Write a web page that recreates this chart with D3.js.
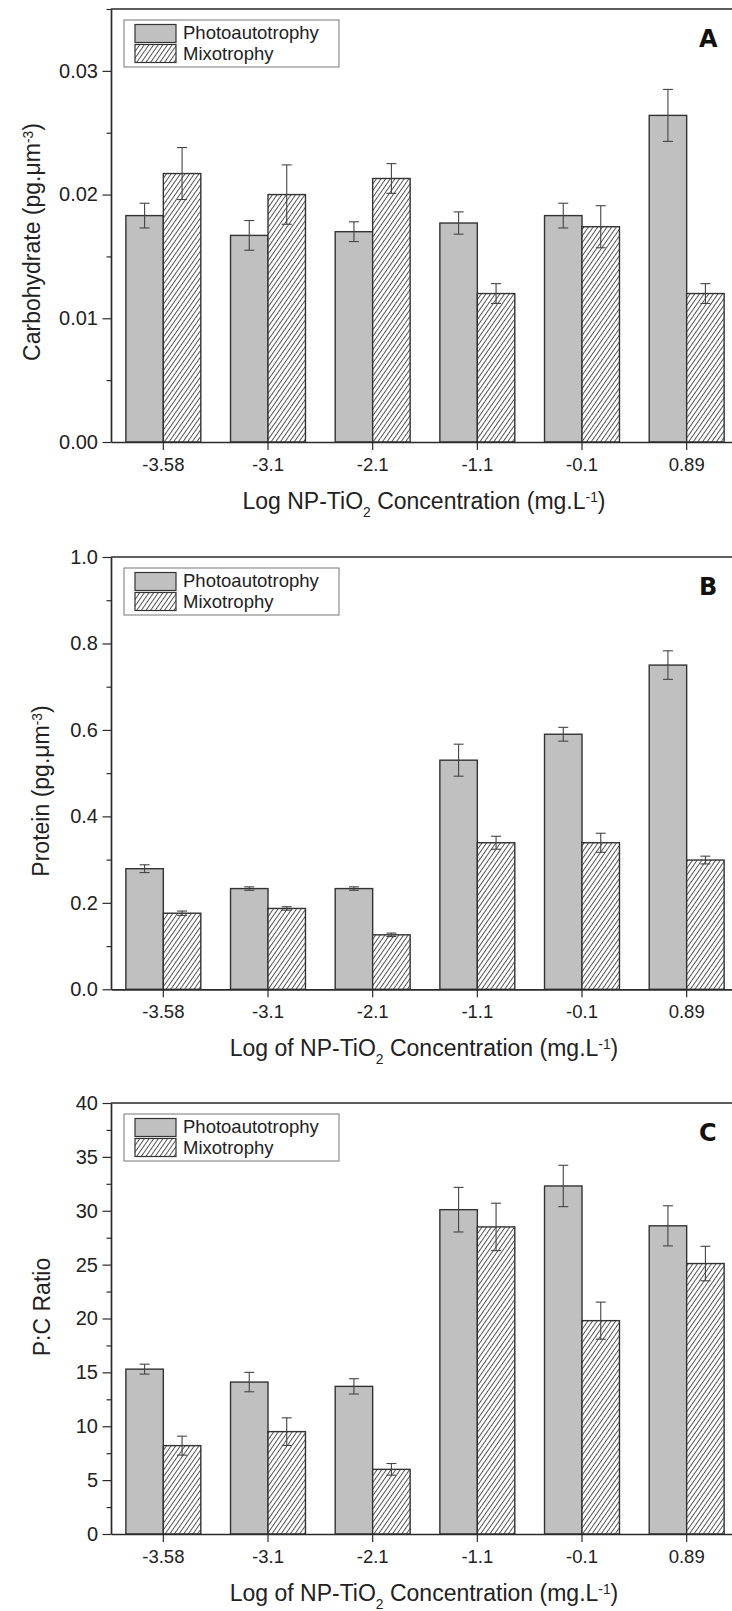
<!doctype html>
<html lang="en">
<head>
<meta charset="utf-8">
<title>NP-TiO2 bars</title>
<script src="https://d3js.org/d3.v7.min.js"></script>
<style>
  body { margin: 0; background: #fff; }
  svg { display: block; font-family: "Liberation Sans", Arial, sans-serif; }
</style>
</head>
<body>
<script>
    // categories and series
    var categories = ["-3.58", "-3.1", "-2.1", "-1.1", "-0.1", "0.89"];
    var series = ["Photoautotrophy", "Mixotrophy"];

    // A: carbohydrate (pg.um-3)
    var carbPhoto    = [0.0183, 0.0167, 0.0170, 0.0177, 0.0183, 0.0264];
    var carbPhotoErr = [0.0010, 0.0012, 0.0008, 0.0009, 0.0010, 0.0021];
    var carbMixo     = [0.0217, 0.0200, 0.0213, 0.0120, 0.0174, 0.0120];
    var carbMixoErr  = [0.0021, 0.0024, 0.0012, 0.0008, 0.0017, 0.0008];
    var carbTicks = [0, 0.01, 0.02, 0.03];
    var carbMinor = [0.005, 0.015, 0.025, 0.035];

    // B: protein (pg.um-3)
    var protPhoto    = [0.279, 0.233, 0.233, 0.530, 0.590, 0.750];
    var protPhotoErr = [0.009, 0.004, 0.004, 0.037, 0.016, 0.033];
    var protMixo     = [0.176, 0.187, 0.126, 0.339, 0.339, 0.299];
    var protMixoErr  = [0.005, 0.004, 0.004, 0.015, 0.022, 0.009];
    var protTicks = [0, 0.2, 0.4, 0.6, 0.8, 1.0];
    var protMinor = [0.1, 0.3, 0.5, 0.7, 0.9];

    // C: P:C ratio
    var pcPhoto    = [15.3, 14.1, 13.7, 30.1, 32.3, 28.6];
    var pcPhotoErr = [0.46, 0.90, 0.71, 2.07, 1.92, 1.86];
    var pcMixo     = [8.2, 9.5, 6.0, 28.5, 19.8, 25.1];
    var pcMixoErr  = [0.88, 1.28, 0.54, 2.2, 1.72, 1.6];
    var pcTicks = [0, 5, 10, 15, 20, 25, 30, 35, 40];
    var pcMinor = [2.5, 7.5, 12.5, 17.5, 22.5, 27.5, 32.5, 37.5];

    var left = 111, right = 739;
    var barFill = "#c0c0c0", ink = "#2a2a2a";

    var svg = d3.select("body").append("svg")
        .attr("width", 732)
        .attr("height", 1611);

    var pat = svg.append("defs").append("pattern")
        .attr("id", "hatch")
        .attr("patternUnits", "userSpaceOnUse")
        .attr("width", 3.8)
        .attr("height", 3.8)
        .attr("patternTransform", "rotate(35)");
    pat.append("rect").attr("width", 3.8).attr("height", 3.8).attr("fill", "#fff");
    pat.append("line")
        .attr("x1", 0.5).attr("y1", 0).attr("x2", 0.5).attr("y2", 3.8)
        .attr("stroke", "#444").attr("stroke-width", 0.9);

    var x0 = d3.scaleBand()
        .domain(categories)
        .range([left, right])
        .paddingInner(0.284)
        .paddingOuter(0.142);

    var x1 = d3.scaleBand()
        .domain(series)
        .range([0, x0.bandwidth()]);

    function addParts(text, parts) {
        parts.forEach(function (p) {
            var t = text.append("tspan").text(p[0]);
            if (p[1] == "sup") t.attr("baseline-shift", "super").attr("font-size", "0.6em");
            if (p[1] == "sub") t.attr("baseline-shift", "sub").attr("font-size", "0.6em");
        });
    }

    function drawPanel(o) {
        var g = svg.append("g");
        var y = d3.scaleLinear().domain([0, o.max]).range([o.bottom, o.top]);

        var rows = categories.map(function (c, i) {
            return [
                { cat: c, s: series[0], v: o.photo[i], e: o.photoErr[i] },
                { cat: c, s: series[1], v: o.mixo[i], e: o.mixoErr[i] }
            ];
        });
        var flat = [].concat.apply([], rows);

        g.selectAll(".bar")
            .data(flat)
            .enter().append("rect")
            .attr("class", "bar")
            .attr("x", function (d) { return x0(d.cat) + x1(d.s); })
            .attr("y", function (d) { return y(d.v); })
            .attr("width", x1.bandwidth())
            .attr("height", function (d) { return y(0) - y(d.v); })
            .attr("fill", function (d) { return d.s == series[0] ? barFill : "url(#hatch)"; })
            .attr("stroke", "#333")
            .attr("stroke-width", 1.4);

        var err = g.selectAll(".err")
            .data(flat)
            .enter().append("g")
            .attr("class", "err")
            .attr("stroke", "#444")
            .attr("stroke-width", 1.1)
            .attr("transform", function (d) {
                return "translate(" + (x0(d.cat) + x1(d.s) + x1.bandwidth() / 2) + ",0)";
            });
        err.append("line")
            .attr("y1", function (d) { return y(d.v - d.e); })
            .attr("y2", function (d) { return y(d.v + d.e); });
        err.append("line").attr("x1", -5).attr("x2", 5)
            .attr("y1", function (d) { return y(d.v + d.e); })
            .attr("y2", function (d) { return y(d.v + d.e); });
        err.append("line").attr("x1", -5).attr("x2", 5)
            .attr("y1", function (d) { return y(d.v - d.e); })
            .attr("y2", function (d) { return y(d.v - d.e); });

        // y axis
        var ya = g.append("g")
            .attr("transform", "translate(" + left + ",0)")
            .call(d3.axisLeft(y).tickValues(o.ticks).tickFormat(d3.format(o.fmt))
                .tickSize(8.5).tickPadding(4.5).tickSizeOuter(0));
        ya.append("g")
            .call(d3.axisLeft(y).tickValues(o.minor).tickFormat("").tickSize(4.5).tickSizeOuter(0))
            .select(".domain").remove();
        ya.selectAll("text").attr("font-size", 20).attr("fill", "#222")
            .attr("font-family", "Liberation Sans, Arial, sans-serif");

        // x axis
        var xa = g.append("g")
            .attr("transform", "translate(0," + o.bottom + ")")
            .call(d3.axisBottom(x0).tickSize(8).tickPadding(7.9).tickSizeOuter(0));
        xa.selectAll("text").attr("font-size", 18.5).attr("fill", "#222")
            .attr("font-family", "Liberation Sans, Arial, sans-serif");

        g.selectAll(".domain, .tick line").attr("stroke", ink);
        g.selectAll(".domain").attr("stroke-width", 1.7);
        g.selectAll(".tick line").attr("stroke-width", 1.2);

        // top frame
        g.append("line")
            .attr("x1", left).attr("x2", right)
            .attr("y1", o.top).attr("y2", o.top)
            .attr("stroke", ink).attr("stroke-width", 1.7);

        // legend
        var lg = g.append("g").attr("transform", "translate(124," + (o.top + 11) + ")");
        lg.append("rect").attr("width", 215).attr("height", 47)
            .attr("fill", "#fff").attr("stroke", "#777").attr("stroke-width", 1);
        lg.selectAll(".sw")
            .data(series)
            .enter().append("rect")
            .attr("x", 11)
            .attr("y", function (d, i) { return 4.5 + i * 20; })
            .attr("width", 41)
            .attr("height", 18)
            .attr("fill", function (d, i) { return i == 0 ? barFill : "url(#hatch)"; })
            .attr("stroke", "#333")
            .attr("stroke-width", 1.2);
        lg.selectAll(".lt")
            .data(series)
            .enter().append("text")
            .attr("x", 59)
            .attr("y", function (d, i) { return 19 + i * 20.6; })
            .attr("font-size", 18.5)
            .attr("fill", "#222")
            .text(function (d) { return d; });

        // panel letter
        g.append("text")
            .attr("x", 699)
            .attr("y", o.top + 37.5)
            .attr("font-family", "DejaVu Sans, sans-serif")
            .attr("font-weight", "bold")
            .attr("font-size", 24)
            .attr("fill", "#111")
            .text(o.letter);

        // titles
        var yt = g.append("text")
            .attr("transform", "translate(" + o.ytx + "," + o.yty + ") rotate(-90)")
            .attr("text-anchor", "middle")
            .attr("font-size", 23)
            .attr("fill", "#222");
        addParts(yt, o.ytitle);

        var xt = g.append("text")
            .attr("x", 424)
            .attr("y", o.bottom + 67)
            .attr("text-anchor", "middle")
            .attr("font-size", 23)
            .attr("fill", "#222");
        addParts(xt, o.xtitle);
    }

    drawPanel({
        top: 9, bottom: 442, max: 0.035,
        ticks: carbTicks, minor: carbMinor, fmt: ".2f",
        photo: carbPhoto, photoErr: carbPhotoErr, mixo: carbMixo, mixoErr: carbMixoErr,
        letter: "A", ytx: 40, yty: 242,
        ytitle: [["Carbohydrate (pg.\u03bcm"], ["-3", "sup"], [")"]],
        xtitle: [["Log NP-TiO"], ["2", "sub"], [" Concentration (mg.L"], ["-1", "sup"], [")"]]
    });

    drawPanel({
        top: 557, bottom: 989.3, max: 1.0,
        ticks: protTicks, minor: protMinor, fmt: ".1f",
        photo: protPhoto, photoErr: protPhotoErr, mixo: protMixo, mixoErr: protMixoErr,
        letter: "B", ytx: 49, yty: 791,
        ytitle: [["Protein (pg.\u03bcm"], ["-3", "sup"], [")"]],
        xtitle: [["Log of NP-TiO"], ["2", "sub"], [" Concentration (mg.L"], ["-1", "sup"], [")"]]
    });

    drawPanel({
        top: 1103, bottom: 1534, max: 40,
        ticks: pcTicks, minor: pcMinor, fmt: "d",
        photo: pcPhoto, photoErr: pcPhotoErr, mixo: pcMixo, mixoErr: pcMixoErr,
        letter: "C", ytx: 50, yty: 1307,
        ytitle: [["P:C Ratio"]],
        xtitle: [["Log of NP-TiO"], ["2", "sub"], [" Concentration (mg.L"], ["-1", "sup"], [")"]]
    });
</script>
</body>
</html>
